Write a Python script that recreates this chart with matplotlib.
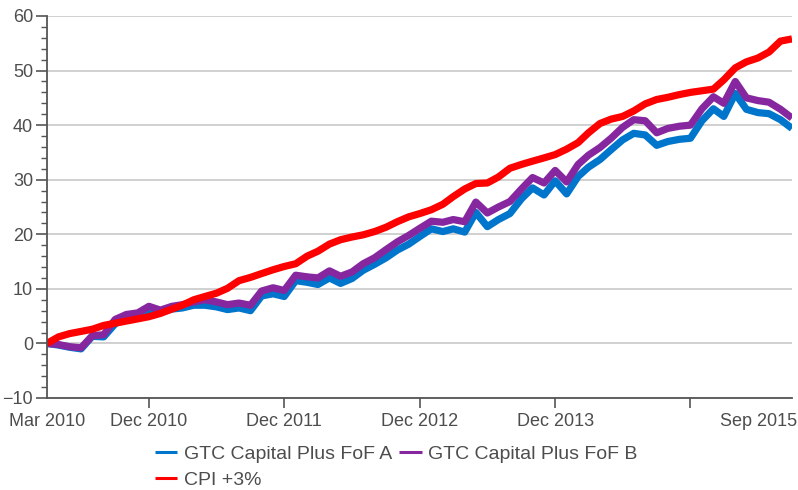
import pandas as pd
import matplotlib
matplotlib.use('Agg')
import matplotlib.pyplot as plt
from matplotlib.ticker import MultipleLocator

# monthly cumulative returns (%), Mar 2010 - Sep 2015
months = pd.date_range('2010-03-01', '2015-09-01', freq='MS')

fund_a = [0.0, -0.3, -0.7, -1.0, 1.3, 1.2, 3.6, 4.8, 5.0, 5.8, 5.7, 6.3,
          6.5, 7.0, 7.0, 6.7, 6.2, 6.5, 6.0, 8.7, 9.1, 8.6, 11.5, 11.2,
          10.8, 12.0, 11.0, 11.9, 13.4, 14.5, 15.7, 17.1, 18.2, 19.6, 21.0, 20.5,
          21.0, 20.4, 24.0, 21.4, 22.7, 23.8, 26.5, 28.5, 27.2, 29.8, 27.4, 30.6,
          32.3, 33.7, 35.5, 37.3, 38.5, 38.2, 36.3, 37.0, 37.4, 37.6, 40.8, 43.0,
          41.6, 45.8, 42.9, 42.3, 42.1, 41.0, 39.4]
fund_b = [0.0, -0.2, -0.6, -0.8, 1.4, 1.6, 4.4, 5.3, 5.6, 6.8, 6.1, 6.8,
          7.1, 7.6, 8.0, 7.6, 7.1, 7.4, 7.0, 9.6, 10.2, 9.7, 12.5, 12.2,
          12.0, 13.3, 12.3, 13.1, 14.6, 15.7, 17.2, 18.6, 19.8, 21.1, 22.4, 22.2,
          22.7, 22.3, 25.9, 23.9, 25.0, 26.0, 28.3, 30.4, 29.4, 31.7, 29.6, 32.8,
          34.5, 35.9, 37.6, 39.6, 41.0, 40.8, 38.6, 39.4, 39.8, 40.0, 43.0, 45.2,
          44.0, 48.0, 45.0, 44.5, 44.2, 42.9, 41.3]
cpi = [0.0, 1.2, 1.8, 2.2, 2.6, 3.3, 3.7, 4.1, 4.5, 4.9, 5.5, 6.3,
       7.0, 8.0, 8.6, 9.2, 10.1, 11.5, 12.1, 12.8, 13.5, 14.1, 14.6, 16.0,
       16.9, 18.2, 19.0, 19.5, 19.9, 20.5, 21.3, 22.3, 23.2, 23.8, 24.5, 25.5,
       26.9, 28.3, 29.3, 29.4, 30.5, 32.1, 32.8, 33.4, 34.0, 34.6, 35.6, 36.8,
       38.6, 40.3, 41.1, 41.6, 42.6, 43.9, 44.7, 45.1, 45.6, 46.0, 46.3, 46.6,
       48.3, 50.5, 51.6, 52.3, 53.4, 55.4, 55.8]

tick_dates = pd.to_datetime(['2010-12-01', '2011-12-01', '2012-12-01', '2013-12-01', '2014-12-01'])
tick_labels = ['Dec 2010', 'Dec 2011', 'Dec 2012', 'Dec 2013', '']

grey = '#555555'
plt.rcParams['font.family'] = ['Liberation Sans', 'DejaVu Sans']

fig = plt.figure(figsize=(7.98, 4.90), dpi=100)
ax = fig.add_axes([47/798, 1 - 398/490, (792 - 47)/798, (398 - 16)/490])

kw = dict(lw=5.2, solid_joinstyle='round', solid_capstyle='butt')
la, = ax.plot(months, fund_a, color='#0075cc', label='GTC Capital Plus FoF A', **kw)
lb, = ax.plot(months, fund_b, color='#8627a0', label='GTC Capital Plus FoF B', **kw)
lc, = ax.plot(months, cpi, color='#ff0000', label='CPI +3%', **kw)

ax.set_xlim(months[0], months[-1])
ax.set_ylim(-10, 60)
ax.yaxis.set_major_locator(MultipleLocator(10))
ax.yaxis.set_minor_locator(MultipleLocator(2))
ax.grid(axis='y', color='#c4c4c4', lw=1.1)
ax.set_axisbelow(True)

ax.set_xticks(tick_dates)
ax.set_xticklabels(tick_labels)
ax.tick_params(axis='x', length=7, width=1.2, color=grey, pad=4, labelsize=13, labelcolor='#4d4d4d')
ax.tick_params(axis='y', which='major', length=8, width=1.2, color=grey, pad=2, labelsize=13, labelcolor='#4d4d4d')
ax.tick_params(axis='y', which='minor', length=4, width=1.0, color=grey)

# end labels at the axis limits
ax.text(months[0], -0.04, 'Mar 2010', transform=ax.get_xaxis_transform(),
        ha='center', va='top', fontsize=13, color='#4d4d4d')
ax.text(1.007, -0.04, 'Sep 2015', transform=ax.transAxes,
        ha='right', va='top', fontsize=13, color='#4d4d4d')

for s in ['top', 'right']:
    ax.spines[s].set_visible(False)
for s in ['left', 'bottom']:
    ax.spines[s].set_color(grey)
    ax.spines[s].set_linewidth(1.3)

# column-major fill: A, CPI in first column, B in second
leg = fig.legend([la, lc, lb], [la.get_label(), lc.get_label(), lb.get_label()],
                 loc='upper left', bbox_to_anchor=(155/798, 1 - 445/490), ncol=2,
                 frameon=False, borderpad=0, borderaxespad=0, handlelength=1.15,
                 handletextpad=0.35, columnspacing=0.35, labelspacing=0.45,
                 prop={'size': 14})
for line in leg.get_lines():
    line.set_linewidth(2.2)
for t in leg.get_texts():
    t.set_color('#4d4d4d')

fig.savefig('out.png', dpi=100)
